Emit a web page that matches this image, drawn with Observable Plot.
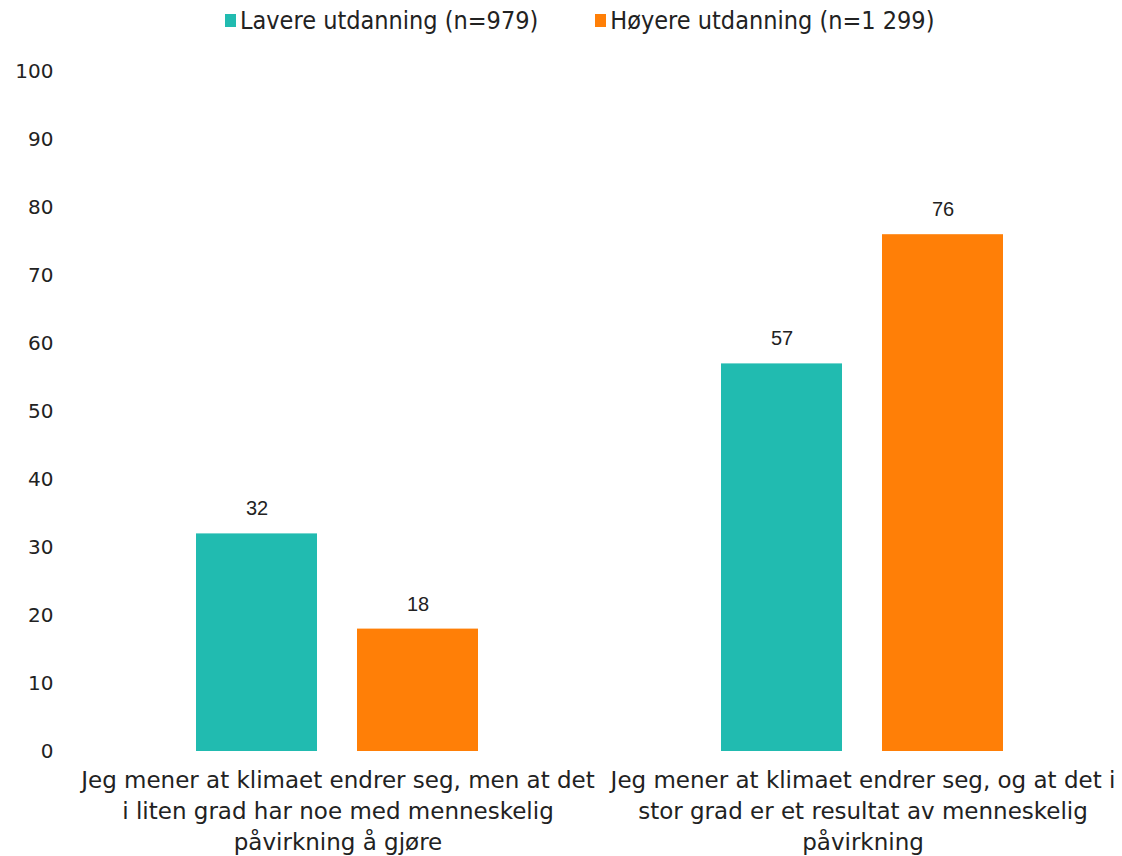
<!DOCTYPE html>
<html>
<head>
<meta charset="utf-8">
<script src="https://cdn.jsdelivr.net/npm/d3@7"></script>
<script src="https://cdn.jsdelivr.net/npm/@observablehq/plot@0.6"></script>
<style>
  body { margin: 0; background: #fff; }
  #legend { display: flex; align-items: center; height: 40px; padding-left: 225px; font-family: "DejaVu Sans Condensed", "DejaVu Sans", sans-serif; font-size: 25px; color: #222; }
  .item { display: flex; align-items: center; margin-right: 57px; }
  .sw { width: 11px; height: 13px; margin-right: 4px; }
</style>
</head>
<body>
<div id="legend"></div>
<div id="chart"></div>
<script>
const categories = [
  "Jeg mener at klimaet endrer seg, men at det i liten grad har noe med menneskelig påvirkning å gjøre",
  "Jeg mener at klimaet endrer seg, og at det i stor grad er et resultat av menneskelig påvirkning"
];
const categoryLabels = [
  "Jeg mener at klimaet endrer seg, men at det\ni liten grad har noe med menneskelig\npåvirkning å gjøre",
  "Jeg mener at klimaet endrer seg, og at det i\nstor grad er et resultat av menneskelig\npåvirkning"
];
const series = ["Lavere utdanning (n=979)", "Høyere utdanning (n=1 299)"];
const colors = ["#21BBB0", "#FF7F07"];
const lavere = [32, 57];
const hoyere = [18, 76];
const yTicks = [0, 10, 20, 30, 40, 50, 60, 70, 80, 90, 100];

const data = [];
categories.forEach((c, i) => {
  data.push({category: c, series: series[0], value: lavere[i]});
  data.push({category: c, series: series[1], value: hoyere[i]});
});

const legend = document.getElementById("legend");
series.forEach((s, i) => {
  const it = document.createElement("div");
  it.className = "item";
  it.innerHTML = `<span class="sw" style="background:${colors[i]}"></span><span>${s}</span>`;
  legend.appendChild(it);
});

const plot = Plot.plot({
  width: 1122,
  height: 816,
  marginTop: 31,
  marginBottom: 105,
  marginLeft: 75,
  marginRight: -3,
  style: {fontFamily: "DejaVu Sans, sans-serif", fontSize: "20px", color: "#222", background: "#fff", overflow: "visible"},
  fx: {domain: categories, padding: 0, label: null},
  x: {domain: series, paddingInner: 0.2484, paddingOuter: 0.7516, axis: null},
  y: {domain: [0, 100], ticks: yTicks, label: null},
  color: {domain: series, range: colors},
  marks: [
    Plot.axisY({ticks: yTicks, tickSize: 0, tickPadding: 22, fontSize: 20, label: null}),
    Plot.axisFx({
      anchor: "bottom", tickSize: 0, tickPadding: 14, fontSize: 23, lineHeight: 31 / 23, label: null,
      tickFormat: d => categoryLabels[categories.indexOf(d)]
    }),
    Plot.barY(data, {fx: "category", x: "series", y: "value", fill: "series"}),
    Plot.text(data, {fx: "category", x: "series", y: "value", text: d => String(d.value), dy: -25,
      fontSize: 20, fontFamily: "Liberation Sans, Arial, sans-serif", fill: "#222"})
  ]
});
document.getElementById("chart").appendChild(plot);
</script>
</body>
</html>
